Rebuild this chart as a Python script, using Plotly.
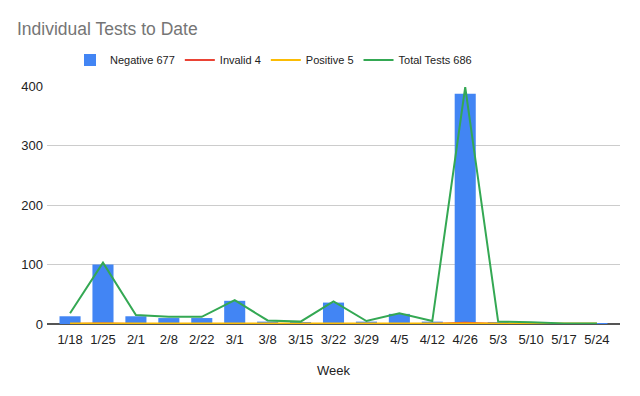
import plotly.graph_objects as go

weeks = ["1/18", "1/25", "2/1", "2/8", "2/22", "3/1", "3/8", "3/15", "3/22", "3/29",
         "4/5", "4/12", "4/26", "5/3", "5/10", "5/17", "5/24"]
negative = [13, 100, 13, 10, 10, 39, 4, 3, 36, 4, 17, 4, 387, 3, 0, 0, 1]
invalid = [0, 1, 0, 0, 0, 1, 0, 0, 0, 0, 0, 0, 2, 0, 0, 0, 0]
positive = [1, 1, 1, 1, 1, 1, 1, 1, 1, 1, 1, 1, 1, 1, 1, 1, 1]
total = [18, 103, 15, 12, 12, 40, 6, 4, 38, 5, 18, 5, 398, 4, 3, 1, 1]
y_ticks = [0, 100, 200, 300, 400]

FONT = "Liberation Sans, Arial, sans-serif"
x_idx = list(range(len(weeks)))
OFF = 8  # page body margin compensation

fig = go.Figure()
fig.add_trace(go.Bar(x=x_idx, y=negative, name="Negative 677",
                     marker=dict(color="#4285F4", line=dict(width=0)), width=0.64))
fig.add_trace(go.Scatter(x=x_idx, y=invalid, name="Invalid 4", mode="lines",
                         line=dict(color="#EA4335", width=2), cliponaxis=False))
fig.add_trace(go.Scatter(x=x_idx, y=positive, name="Positive 5", mode="lines",
                         line=dict(color="#FBBC04", width=2), cliponaxis=False))
fig.add_trace(go.Scatter(x=x_idx, y=total, name="Total Tests 686", mode="lines",
                         line=dict(color="#34A853", width=2), cliponaxis=False))

fig.update_layout(
    width=640, height=396,
    margin=dict(l=47 - OFF, r=20 + OFF, t=86 - OFF, b=72 + OFF, autoexpand=False),
    paper_bgcolor="white", plot_bgcolor="white",
    font=dict(family=FONT, size=13, color="#222222"),
    title=dict(text="Individual Tests to Date", x=(17 - OFF)/640, xanchor="left",
               yref="container", y=1 - (28.5 - OFF)/396, yanchor="middle",
               font=dict(family=FONT, size=17.5, color="#757575")),
    legend=dict(orientation="h", xref="container", x=(70 - OFF)/640, xanchor="left",
                yref="container", y=1 - (60 - OFF)/396, yanchor="middle",
                font=dict(family=FONT, size=11, color="#222222"),
                traceorder="normal", itemwidth=30, tracegroupgap=0),
    showlegend=True,
)
fig.update_xaxes(range=[-0.7, 16.7], tickmode="array", tickvals=x_idx, ticktext=weeks,
                 showgrid=False, showline=False, ticks="", automargin=False,
                 ticklabelstandoff=6,
                 title=dict(text="Week", standoff=19, font=dict(size=13, color="#222222")),
                 tickfont=dict(size=13, color="#222222"))
fig.update_yaxes(range=[0, 400], tickvals=y_ticks, showgrid=True, gridcolor="#CCCCCC",
                 gridwidth=1, zeroline=True, zerolinecolor="#555555", zerolinewidth=1.5,
                 ticks="", ticklabelstandoff=3, automargin=False,
                 tickfont=dict(size=13, color="#222222"))

fig.write_html("out.html")
